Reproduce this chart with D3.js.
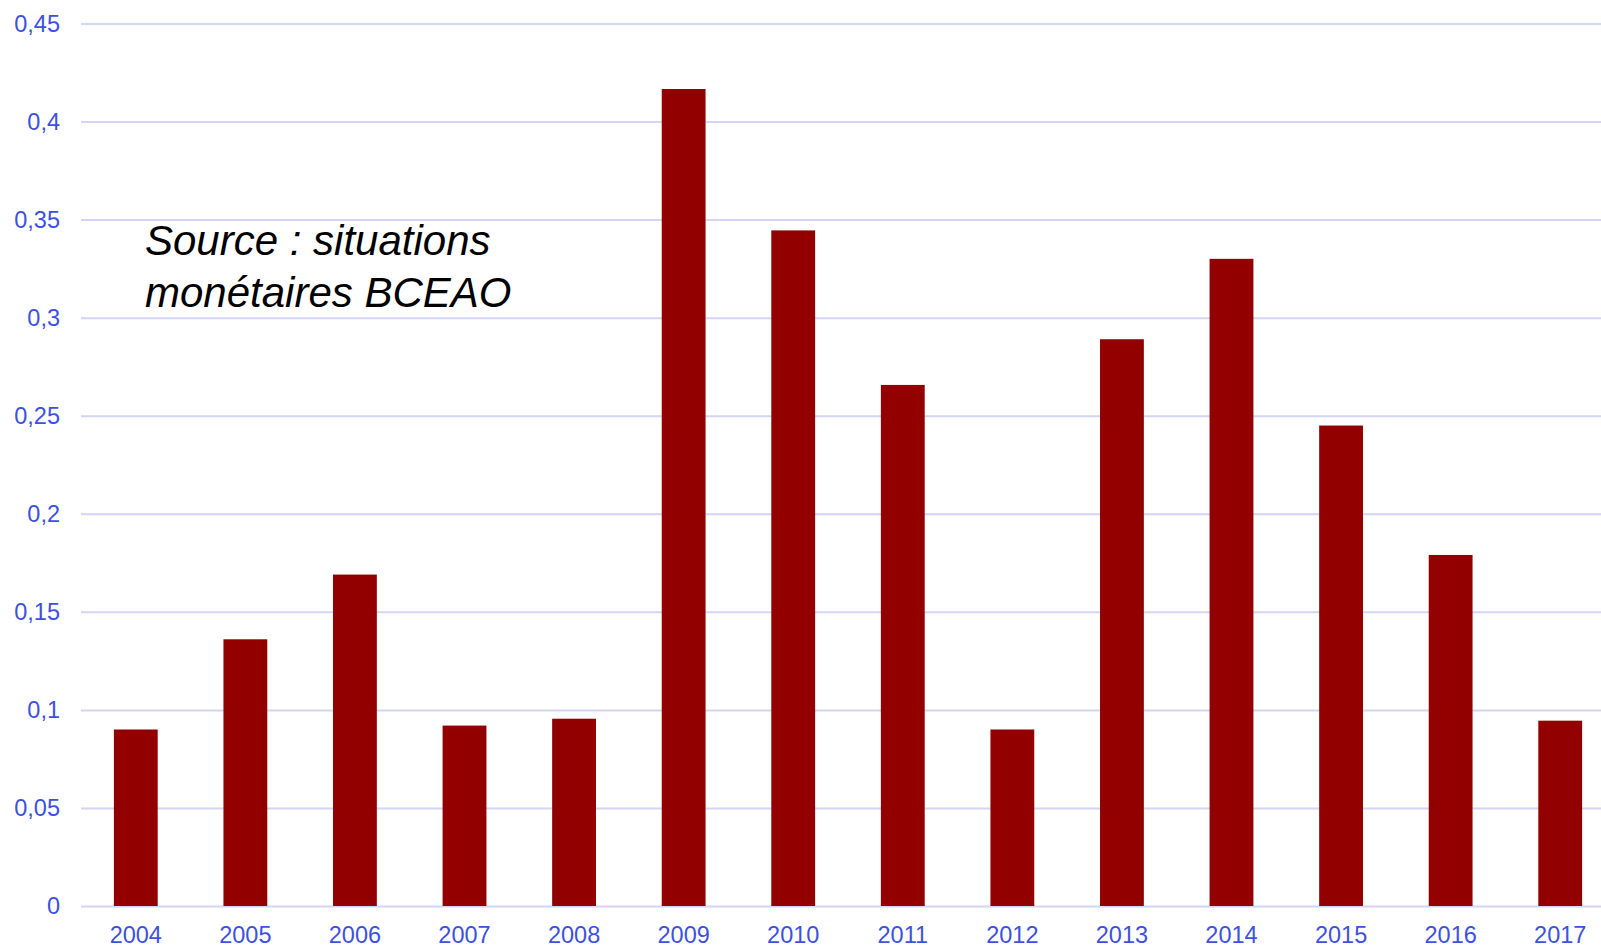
<!DOCTYPE html>
<html>
<head>
<meta charset="utf-8">
<script src="https://cdn.jsdelivr.net/npm/d3@7"></script>
<style>
  html, body { margin: 0; padding: 0; background: #fff; overflow: hidden; }
  svg { display: block; font-family: "Liberation Sans", Arial, sans-serif; }
</style>
</head>
<body>
<div id="chart"></div>
<script>
// Data
const years  = ["2004", "2005", "2006", "2007", "2008", "2009", "2010",
                "2011", "2012", "2013", "2014", "2015", "2016", "2017"];
const values = [0.090, 0.136, 0.169, 0.092, 0.0955, 0.4166, 0.3445,
                0.2657, 0.090, 0.289, 0.330, 0.245, 0.179, 0.0945];
const yTicks = [0, 0.05, 0.1, 0.15, 0.2, 0.25, 0.3, 0.35, 0.4, 0.45];
const sourceLines = ["Source : situations", "monétaires BCEAO"];

const config = {
  width      : 1601,
  height     : 947,
  left       : 81,
  right      : 1615,   // the plot runs off the right edge in the reference
  top        : 23.5,
  bottom     : 906,
  barColor   : "#920000",
  gridColor  : "#d3d5f4",
  labelColor : "#3d50df",
  fontSize   : 23.5
};

const svg = d3.select("#chart")
  .append("svg")
    .attr("width", config.width)
    .attr("height", config.height);

const x = d3.scaleBand()
  .domain(years)
  .range([config.left, config.right])
  .paddingInner(0.6)
  .paddingOuter(0.3);

const y = d3.scaleLinear()
  .domain([0, 0.45])
  .range([config.bottom, config.top]);

const fmt = d => d3.format("")(+d.toFixed(2)).replace(".", ",");

// Gridlines + y labels
const yAxis = svg.append("g")
  .call(d3.axisLeft(y)
    .tickValues(yTicks)
    .tickSize(-(config.right - config.left))
    .tickFormat(fmt))
  .attr("transform", "translate(" + config.left + ",0)");

yAxis.select(".domain").remove();
yAxis.selectAll(".tick line")
  .attr("stroke", config.gridColor)
  .attr("stroke-width", 2);
yAxis.selectAll(".tick text")
  .attr("x", -21)
  .attr("fill", config.labelColor)
  .style("font-size", config.fontSize + "px");

// Bars
svg.append("g")
  .selectAll("rect")
  .data(values)
  .enter()
    .append("rect")
    .attr("x", (d, i) => x(years[i]))
    .attr("width", x.bandwidth())
    .attr("y", d => y(d))
    .attr("height", d => y(0) - y(d))
    .attr("fill", config.barColor);

// x labels
const xAxis = svg.append("g")
  .attr("transform", "translate(0," + config.bottom + ")")
  .call(d3.axisBottom(x).tickSize(0).tickPadding(20.5));

xAxis.select(".domain").remove();
xAxis.selectAll(".tick text")
  .attr("fill", config.labelColor)
  .style("font-size", config.fontSize + "px");

// Source note
svg.append("text")
  .attr("x", 145)
  .attr("y", 255)
  .attr("fill", "#000")
  .style("font-size", "42px")
  .style("font-style", "italic")
  .selectAll("tspan")
  .data(sourceLines)
  .enter()
    .append("tspan")
    .attr("x", 145)
    .attr("dy", (d, i) => i === 0 ? 0 : 52)
    .text(d => d);
</script>
</body>
</html>
